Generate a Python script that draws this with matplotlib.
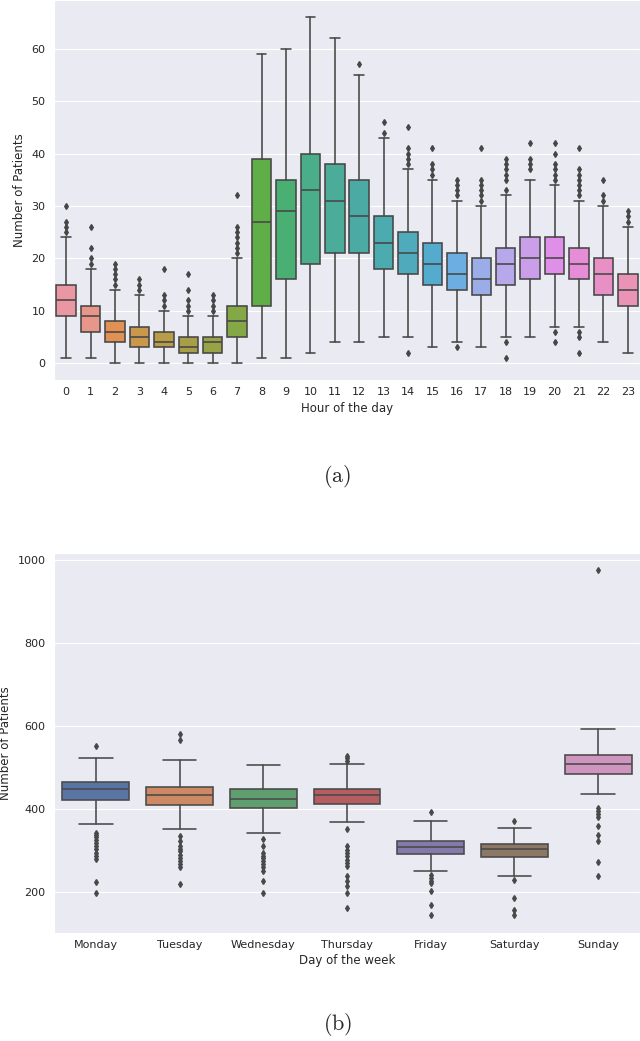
import colorsys
import numpy as np
import matplotlib
matplotlib.use("Agg")
import matplotlib.pyplot as plt
import seaborn as sns

# Hourly arrivals: box statistics
hours = [str(h) for h in range(24)]
hour_lo = [1, 1, 0, 0, 0, 0, 0, 0, 1, 1, 2, 4, 4, 5, 5, 3, 4, 3, 5, 5, 7, 7, 4, 2]
hour_q1 = [9, 6, 4, 3, 3, 2, 2, 5, 11, 16, 19, 21, 21, 18, 17, 15, 14, 13, 15, 16, 17, 16, 13, 11]
hour_med = [12, 9, 6, 5, 4, 3, 4, 8, 27, 29, 33, 31, 28, 23, 21, 19, 17, 16, 19, 20, 20, 19, 17, 14]
hour_q3 = [15, 11, 8, 7, 6, 5, 5, 11, 39, 35, 40, 38, 35, 28, 25, 23, 21, 20, 22, 24, 24, 22, 20, 17]
hour_hi = [24, 18, 14, 13, 10, 9, 9, 20, 59, 60, 66, 62, 55, 43, 37, 35, 31, 30, 32, 35, 34, 31, 30, 26]
hour_fliers = [
    [25, 26, 27, 30], [19, 20, 22, 26], [15, 16, 17, 18, 19], [14, 15, 16],
    [11, 12, 13, 18], [10, 11, 12, 14, 17], [10, 11, 12, 13],
    [21, 22, 23, 24, 25, 26, 32], [], [], [], [], [57], [44, 46],
    [2, 38, 39, 40, 41, 45], [36, 37, 38, 41], [3, 32, 33, 34, 35],
    [31, 32, 33, 34, 35, 41], [1, 4, 33, 35, 36, 37, 38, 39], [37, 38, 39, 42],
    [4, 6, 35, 36, 37, 38, 40, 42], [2, 5, 6, 32, 33, 34, 35, 36, 37, 41],
    [31, 32, 35], [27, 28, 29],
]

# Daily arrivals
days = ["Monday", "Tuesday", "Wednesday", "Thursday", "Friday", "Saturday", "Sunday"]
day_lo = [363, 351, 343, 368, 250, 238, 437]
day_q1 = [421, 410, 402, 412, 292, 284, 484]
day_med = [447, 434, 425, 433, 308, 304, 509]
day_q3 = [465, 454, 447, 449, 324, 316, 531]
day_hi = [523, 518, 506, 509, 371, 354, 592]
day_fliers = [
    [551, 342, 338, 333, 325, 318, 310, 303, 295, 288, 280, 225, 197],
    [567, 580, 334, 322, 312, 305, 298, 290, 283, 275, 268, 261, 219],
    [328, 312, 294, 288, 282, 275, 268, 260, 250, 227, 199],
    [515, 522, 528, 351, 310, 302, 295, 287, 278, 270, 262, 238, 226, 214, 198, 161],
    [394, 242, 235, 228, 222, 202, 170, 144],
    [370, 229, 187, 158, 146],
    [975, 402, 395, 388, 380, 359, 338, 322, 272, 238],
]

sns.set_style("darkgrid")
plt.rcParams["mathtext.fontset"] = "cm"


def desat(c, prop=0.75):
    h, l, s = colorsys.rgb_to_hls(*c)
    return colorsys.hls_to_rgb(h, l, s * prop)


def box_panel(ax, labels, lo, q1, med, q3, hi, fliers, colors, xlabel, yticks):
    stats = []
    for i in range(len(labels)):
        stats.append(dict(whislo=lo[i], q1=q1[i], med=med[i], q3=q3[i],
                          whishi=hi[i], fliers=np.array(fliers[i], float)))
    # seaborn-like gray for outlines
    lum = min(colorsys.rgb_to_hls(*c)[1] for c in colors) * .6
    gray = (lum, lum, lum)
    lw = 1.15
    art = ax.bxp(stats, positions=range(len(labels)), widths=0.8, patch_artist=True,
                 boxprops=dict(edgecolor=gray, linewidth=lw),
                 medianprops=dict(color=gray, linewidth=lw),
                 whiskerprops=dict(color=gray, linewidth=lw),
                 capprops=dict(color=gray, linewidth=lw),
                 flierprops=dict(marker="d", markersize=3, markerfacecolor=gray,
                                 markeredgecolor=gray, linestyle="none"))
    for patch, c in zip(art["boxes"], colors):
        patch.set_facecolor(c)
    ax.set_xlim(-0.5, len(labels) - 0.5)
    ax.set_xticks(range(len(labels)))
    ax.set_xticklabels(labels)
    ax.set_yticks(yticks)
    ax.xaxis.grid(False)
    ax.tick_params(axis="x", length=0, pad=5, labelsize=8, labelcolor=".15")
    ax.tick_params(axis="y", length=0, pad=6, labelsize=8, labelcolor=".15")
    ax.set_xlabel(xlabel, fontsize=8.5, color=".15", labelpad=3)
    ax.set_ylabel("Number of Patients", fontsize=8.5, color=".15")


fig = plt.figure(figsize=(6.4, 10.41), dpi=100)

ax1 = fig.add_axes([0.0844, 0.6345, 0.9156, 0.3655])
hour_colors = [desat(c) for c in sns.husl_palette(24, l=.7)]
box_panel(ax1, hours, hour_lo, hour_q1, hour_med, hour_q3, hour_hi, hour_fliers,
          hour_colors, "Hour of the day", range(0, 61, 10))

ax2 = fig.add_axes([0.0844, 0.1040, 0.9156, 0.3651])
day_colors = [desat(c) for c in sns.color_palette("deep", 7)]
box_panel(ax2, days, day_lo, day_q1, day_med, day_q3, day_hi, day_fliers,
          day_colors, "Day of the week", range(200, 1001, 200))

fig.text(0.527, 0.5427, r"$\mathrm{(a)}$", fontsize=16, ha="center", va="center")
fig.text(0.527, 0.0154, r"$\mathrm{(b)}$", fontsize=16, ha="center", va="center")

fig.savefig("out.png", dpi=100)
